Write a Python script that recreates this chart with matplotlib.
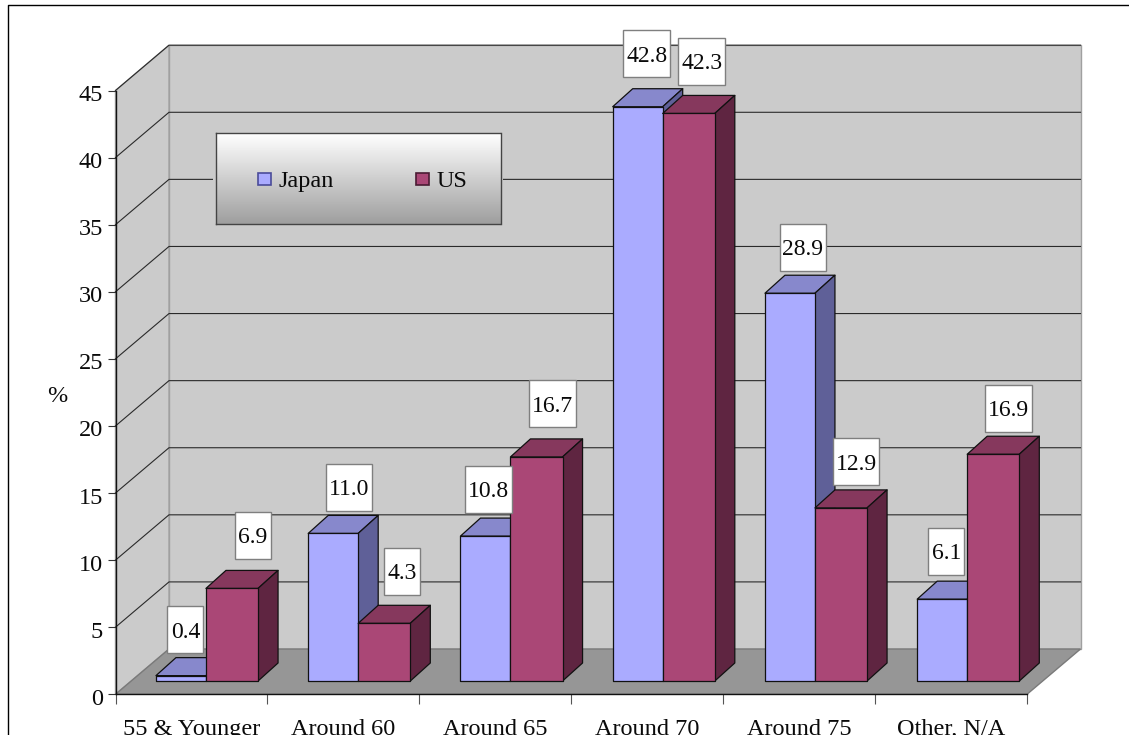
import matplotlib
matplotlib.use("Agg")
import matplotlib.pyplot as plt
import numpy as np
from matplotlib.patches import Polygon, Rectangle
from matplotlib.lines import Line2D
from matplotlib.transforms import ScaledTranslation

plt.rcParams['font.family'] = ['Liberation Serif', 'DejaVu Serif']

categories = ["55 & Younger", "Around 60", "Around 65", "Around 70", "Around 75", "Other, N/A"]
japan = [0.4, 11.0, 10.8, 42.8, 28.9, 6.1]
us = [6.9, 4.3, 16.7, 42.3, 12.9, 16.9]
yticks = list(range(0, 50, 5))

W, H = 1129, 742
fig = plt.figure(figsize=(W / 100, H / 100), dpi=100, facecolor='white')

# front plane of the oblique 3-D box
L, R, Y0, Y45 = 115.5, 1027.0, 694.3, 90.5
ax = fig.add_axes([L / W, 1 - Y0 / H, (R - L) / W, (Y0 - Y45) / H])
ax.set_xlim(0, 6)
ax.set_ylim(0, 45)
ax.patch.set_visible(False)
PX = 6 / (R - L)
PY = 45 / (Y0 - Y45)

WALL_DX, WALL_DY = 53.5 * PX, 45.3 * PY
wall_c, floor_c, wall_e = '#CBCBCB', '#969696', '#A0A0A0'

# walls and floor
ax.add_patch(Polygon([(WALL_DX, WALL_DY), (6 + WALL_DX, WALL_DY), (6 + WALL_DX, 45 + WALL_DY), (WALL_DX, 45 + WALL_DY)],
                     closed=True, fc=wall_c, ec=wall_e, lw=1, zorder=1, clip_on=False))
ax.add_patch(Polygon([(0, 0), (WALL_DX, WALL_DY), (WALL_DX, 45 + WALL_DY), (0, 45)],
                     closed=True, fc=wall_c, ec=wall_e, lw=1, zorder=1, clip_on=False))
ax.add_patch(Polygon([(0, 0), (6, 0), (6 + WALL_DX, WALL_DY), (WALL_DX, WALL_DY)],
                     closed=True, fc=floor_c, ec='#7A7A7A', lw=1, zorder=1.5, clip_on=False))
for v in yticks[1:]:
    ax.plot([0, WALL_DX, 6 + WALL_DX], [v, v + WALL_DY, v + WALL_DY], color='#2A2A2A', lw=0.8,
            zorder=2, clip_on=False)

# bars
BAR_DX0, BAR_DY0 = 15.7 * PX, 13.3 * PY
DEPTH_X, DEPTH_Y = 20 * PX, 18 * PY
J_LEFT, J_W, U_W = 0.163, 0.329, 0.343
PERIOD = 1.0022


def bar3d(x0, w, val, front, top, side, z):
    x1 = x0 + w
    y0 = BAR_DY0
    y1 = y0 + val
    kw = dict(closed=True, ec='#111111', lw=0.9, zorder=z, clip_on=False, joinstyle='round')
    ax.add_patch(Polygon([(x0, y1), (x1, y1), (x1 + DEPTH_X, y1 + DEPTH_Y), (x0 + DEPTH_X, y1 + DEPTH_Y)], fc=top, **kw))
    ax.add_patch(Polygon([(x1, y0), (x1 + DEPTH_X, y0 + DEPTH_Y), (x1 + DEPTH_X, y1 + DEPTH_Y), (x1, y1)], fc=side, **kw))
    ax.add_patch(Polygon([(x0, y0), (x1, y0), (x1, y1), (x0, y1)], fc=front, **kw))


for i, (a, b) in enumerate(zip(japan, us)):
    xj = i * PERIOD + BAR_DX0 + J_LEFT
    bar3d(xj, J_W, a, '#AAABFF', '#8788CC', '#5F6098', 3 + i * 0.1)
    bar3d(xj + J_W, U_W, b, '#AA4776', '#86385D', '#5F2541', 3.05 + i * 0.1)

# data labels: offset of label centre from bar-front centre (px), box width (px)
off_j = [(4.5, -46), (16, -46), (3, -47), (9, -53), (13, -46), (4, -48)]
off_u = [(21, -53), (18, -52), (16, -53), (13, -52), (15, -46), (15, -46)]
BOX_H = 47


def label(x0, w, val, off):
    cx = x0 + w / 2 + off[0] * PX
    cy = BAR_DY0 + val - off[1] * PY
    s = f"{val:.1f}"
    bw = (36 if len(s) == 3 else 46.5) * PX
    bh = BOX_H * PY
    ax.add_patch(Rectangle((cx - bw / 2, cy - bh / 2), bw, bh, fc='white', ec='#7F7F7F', lw=1, zorder=6, clip_on=False))
    ax.text(cx, cy - 2.5 * PY, s, ha='center', va='center', fontsize=17, color='#0A0A0A', zorder=7, clip_on=False)


for i, (a, b) in enumerate(zip(japan, us)):
    xj = i * PERIOD + BAR_DX0 + J_LEFT
    label(xj, J_W, a, off_j[i])
    label(xj + J_W, U_W, b, off_u[i])

# axes
for s in ['top', 'right']:
    ax.spines[s].set_visible(False)
for s in ['left', 'bottom']:
    ax.spines[s].set_color('#111111')
    ax.spines[s].set_linewidth(1.0)
    ax.spines[s].set_zorder(2.5)
ax.set_yticks(yticks)
ax.set_xticks(range(7))
ax.set_xticklabels([])
ax.set_xticks(np.arange(6) + 0.5, categories, minor=True)
ax.tick_params(axis='y', length=6, width=0.8, color='#333333', labelsize=17.5, pad=3, labelcolor='#0A0A0A')
ax.tick_params(axis='x', which='major', length=7, width=0.8, color='#555555')
ax.tick_params(axis='x', which='minor', length=0, labelsize=17.5, pad=25, labelcolor='#0A0A0A')
for t in ax.get_xticklabels(minor=True):
    t.set_verticalalignment('center')
down = ScaledTranslation(0, -2.5 / 100, fig.dpi_scale_trans)
for t in ax.get_yticklabels():
    t.set_transform(t.get_transform() + down)
ax.set_ylabel('%', rotation=0, fontsize=17.5, color='#0A0A0A', ha='center', va='center')
ax.yaxis.set_label_coords((57 - L) / (R - L), (Y0 - 397) / (Y0 - Y45))

# legend box, with the small clear margin that interrupts the gridlines
LX0, LX1, LY0, LY1 = 216, 500.5, 133, 224
fig.add_artist(Rectangle(((LX0 - 3) / W, 1 - (LY1 + 1) / H), (LX1 - LX0 + 6) / W, (LY1 - LY0 + 2) / H,
                         transform=fig.transFigure, fc=wall_c, ec='none', zorder=5))
lax = fig.add_axes([LX0 / W, 1 - LY1 / H, (LX1 - LX0) / W, (LY1 - LY0) / H], zorder=8)
grad = np.linspace(1.0, 0.62, 256).reshape(-1, 1)
lax.imshow(grad, aspect='auto', cmap='gray', vmin=0, vmax=1, extent=[LX0, LX1, LY1, LY0], interpolation='bilinear')
lax.set_xlim(LX0, LX1)
lax.set_ylim(LY1, LY0)
lax.set_xticks([])
lax.set_yticks([])
for s in lax.spines.values():
    s.set_color('#444444')
    s.set_linewidth(1.0)
legend_names = ['Japan', 'US']
legend_cols = ['#AAABFF', '#AA4776']
legend_edges = ['#4B4C99', '#4A1B33']
for name, c, ec, sx in zip(legend_names, legend_cols, legend_edges, [258.5, 416.5]):
    lax.add_patch(Rectangle((sx, 172.5), 12.5, 12.5, fc=c, ec=ec, lw=1.2))
    lax.text(sx + 20, 181.5, name, ha='left', va='center', fontsize=17.5, color='#0A0A0A')

# outer frame
fig.add_artist(Line2D([8 / W, 8 / W, 1], [0, 1 - 4.5 / H, 1 - 4.5 / H], color='black', lw=1.0))
# the reference page is cut off below this line
fig.add_artist(Rectangle((0, 0), 1, (H - 734.5) / H, transform=fig.transFigure, fc='white', ec='none', zorder=20))

fig.savefig('out.png', dpi=100)
